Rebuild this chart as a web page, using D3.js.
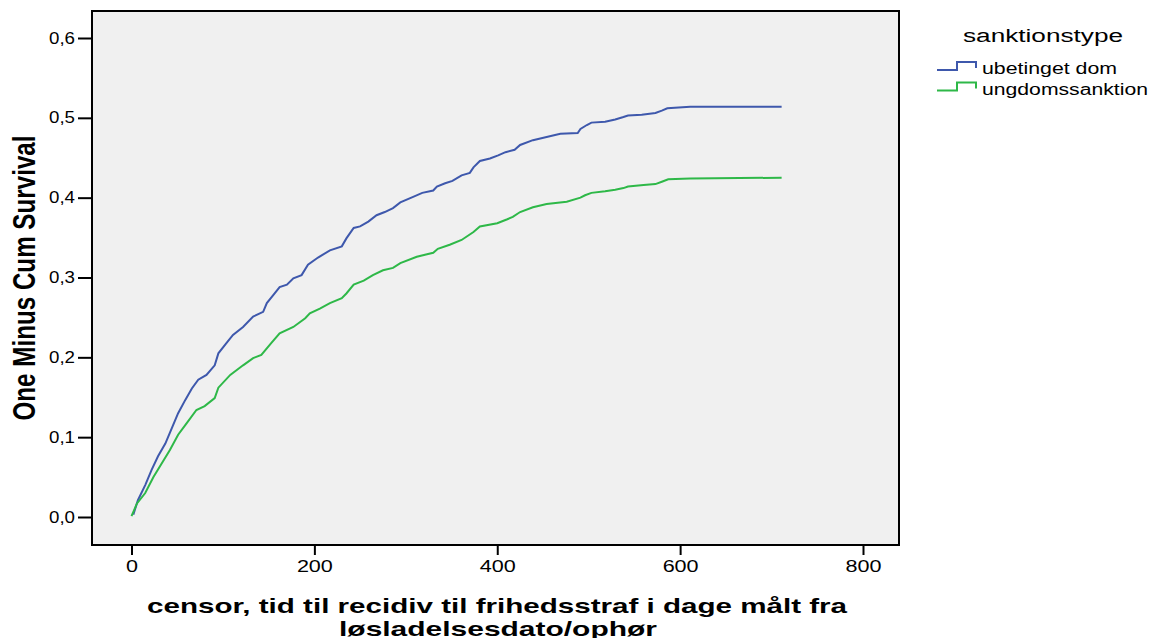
<!DOCTYPE html>
<html>
<head>
<meta charset="utf-8">
<script src="https://cdn.jsdelivr.net/npm/d3@7"></script>
<style>
  body { margin: 0; background: #fff; }
  svg { display: block; }
</style>
</head>
<body>
<svg width="1154" height="638"></svg>
<script>
// Kaplan-Meier: one minus cum survival
var groups = ["ubetinget dom", "ungdomssanktion"];
var colors = ["#3e58ac", "#2eb848"];

var ubetDays = [2, 7, 15, 22, 29, 37, 44, 51, 59, 66, 73, 82, 91, 95, 104, 111, 122, 133, 144, 148,
  155, 162, 170, 177, 186, 193, 204, 217, 230, 235, 243, 250, 259, 268, 277, 286, 294, 308, 318, 330,
  334, 343, 351, 361, 370, 374, 381, 392, 401, 409, 419, 425, 439, 454, 469, 488, 491, 498, 503, 518,
  529, 538, 543, 558, 573, 580, 586, 611, 711];
var ubetVals = [0.003, 0.021, 0.040, 0.059, 0.076, 0.092, 0.111, 0.130, 0.147, 0.161, 0.172, 0.178, 0.190, 0.205, 0.218, 0.228, 0.238, 0.251, 0.257, 0.268,
  0.278, 0.288, 0.291, 0.299, 0.303, 0.316, 0.325, 0.334, 0.339, 0.349, 0.362, 0.364, 0.370, 0.378, 0.382, 0.387, 0.394, 0.401, 0.406, 0.409,
  0.414, 0.418, 0.421, 0.428, 0.431, 0.438, 0.446, 0.449, 0.453, 0.457, 0.460, 0.466, 0.472, 0.476, 0.480, 0.481, 0.486, 0.491, 0.494, 0.495,
  0.498, 0.501, 0.503, 0.504, 0.506, 0.509, 0.512, 0.514, 0.514];

var ungDays = [0, 6, 15, 24, 33, 42, 51, 60, 71, 80, 91, 95, 108, 122, 133, 142, 153, 162, 177, 190,
  195, 206, 217, 230, 235, 243, 254, 264, 275, 286, 294, 312, 330, 335, 348, 361, 374, 381, 400, 411,
  417, 425, 439, 454, 476, 491, 496, 503, 518, 529, 538, 543, 560, 573, 580, 587, 611, 711];
var ungVals = [0.001, 0.017, 0.030, 0.050, 0.067, 0.084, 0.103, 0.117, 0.134, 0.139, 0.149, 0.162, 0.178, 0.190, 0.199, 0.203, 0.218, 0.230, 0.238, 0.249,
  0.255, 0.261, 0.268, 0.274, 0.280, 0.291, 0.296, 0.303, 0.309, 0.312, 0.318, 0.326, 0.331, 0.336, 0.341, 0.347, 0.357, 0.364, 0.368, 0.373,
  0.376, 0.382, 0.388, 0.392, 0.395, 0.400, 0.403, 0.406, 0.408, 0.410, 0.412, 0.414, 0.416, 0.417, 0.420, 0.423, 0.424, 0.425];

var xTicks = [0, 200, 400, 600, 800];
var yTicks = [0, 0.1, 0.2, 0.3, 0.4, 0.5, 0.6];

var svg = d3.select("svg"),
    frame = {left: 92, top: 11, right: 899, bottom: 545},
    font = "Liberation Sans, Arial, sans-serif";

var x = d3.scaleLinear().domain([0, 800]).range([131.5, 863]),
    y = d3.scaleLinear().domain([0, 0.6]).range([517, 38]);

// the original picture is stretched sideways, so text gets a fixed width
function stretch(sel, w) {
  sel.attr("textLength", w).attr("lengthAdjust", "spacingAndGlyphs");
}

// plot area
svg.append("rect")
    .attr("x", frame.left).attr("y", frame.top)
    .attr("width", frame.right - frame.left).attr("height", frame.bottom - frame.top)
    .attr("fill", "#f0f0f0")
    .attr("stroke", "#000").attr("stroke-width", 2);

// axes
var yAxis = svg.append("g")
    .attr("transform", "translate(" + (frame.left - 1) + ",0)")
    .call(d3.axisLeft(y).tickValues(yTicks).tickSize(13).tickPadding(3)
      .tickFormat(function(d) { return d3.format(".1f")(d).replace(".", ","); }));
yAxis.select(".domain").remove();
yAxis.selectAll("line").attr("stroke-width", 2);
yAxis.selectAll("text").attr("font-family", font)
    .attr("font-size", 16).attr("fill", "#000")
    .call(stretch, 26);

var xAxis = svg.append("g")
    .attr("transform", "translate(0," + (frame.bottom + 1) + ")")
    .call(d3.axisBottom(x).tickValues(xTicks).tickSize(9).tickPadding(6).tickFormat(d3.format("d")));
xAxis.select(".domain").remove();
xAxis.selectAll("line").attr("stroke-width", 2);
xAxis.selectAll("text").attr("font-family", font)
    .attr("font-size", 16).attr("fill", "#000")
    .each(function(d) { d3.select(this).call(stretch, String(d).length * 12); });

// axis titles
svg.append("text")
    .attr("transform", "translate(35,278) scale(1.3,1) rotate(-90)")
    .attr("text-anchor", "middle")
    .attr("font-family", font)
    .attr("font-weight", "bold")
    .attr("font-size", 24)
    .call(stretch, 285)
    .text("One Minus Cum Survival");

svg.append("text")
    .attr("x", 497).attr("y", 613)
    .attr("text-anchor", "middle")
    .attr("font-family", font)
    .attr("font-weight", "bold")
    .attr("font-size", 21)
    .call(stretch, 700)
    .text("censor, tid til recidiv til frihedsstraf i dage målt fra");

svg.append("text")
    .attr("x", 498).attr("y", 636)
    .attr("text-anchor", "middle")
    .attr("font-family", font)
    .attr("font-weight", "bold")
    .attr("font-size", 21)
    .call(stretch, 318)
    .text("løsladelsesdato/ophør");

// curves
var series = [
  {name: groups[0], color: colors[0], w: 135, pts: ubetDays.map(function(d, i) { return [d, ubetVals[i]]; })},
  {name: groups[1], color: colors[1], w: 166, pts: ungDays.map(function(d, i) { return [d, ungVals[i]]; })}
];

var line = d3.line()
    .x(function(d) { return x(d[0]); })
    .y(function(d) { return y(d[1]); });

svg.selectAll(".km")
  .data(series)
  .join("path")
    .attr("class", "km")
    .attr("d", function(d) { return line(d.pts); })
    .attr("fill", "none")
    .attr("stroke", function(d) { return d.color; })
    .attr("stroke-width", 2);

// legend
svg.append("text")
    .attr("x", 963).attr("y", 42)
    .attr("font-family", font)
    .attr("font-size", 18)
    .call(stretch, 160)
    .text("sanktionstype");

var leg = svg.selectAll(".leg")
  .data(series)
  .join("g")
    .attr("class", "leg")
    .attr("transform", function(d, i) { return "translate(937," + (70 + i * 20.5) + ")"; });

leg.append("path")
    .attr("d", "M0,0H20V-8H39V-2")
    .attr("fill", "none")
    .attr("stroke", function(d) { return d.color; })
    .attr("stroke-width", 2);

leg.append("text")
    .attr("x", 45).attr("y", 4)
    .attr("font-family", font)
    .attr("font-size", 16)
    .each(function(d) { d3.select(this).call(stretch, d.w); })
    .text(function(d) { return d.name; });
</script>
</body>
</html>
